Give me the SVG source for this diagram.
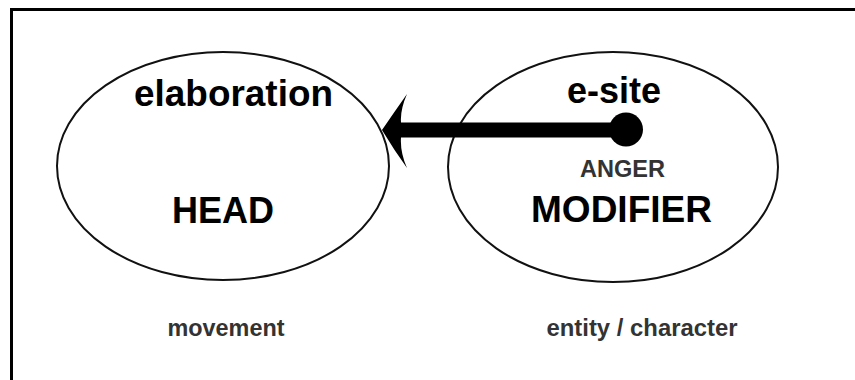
<svg xmlns="http://www.w3.org/2000/svg" width="855" height="380" viewBox="0 0 855 380">
  <style>
    .frame { stroke: #000; stroke-width: 3; fill: none; }
    .node { fill: none; stroke: #111; stroke-width: 2; }
    .title { font-family: "Liberation Sans", Arial, sans-serif; font-weight: bold; fill: #000; text-anchor: middle; }
    .sub { font-family: "Liberation Sans", Arial, sans-serif; font-weight: bold; fill: #333; text-anchor: middle; }
  </style>
  <rect width="855" height="380" fill="#fff"/>
  <!-- frame: top and left edges only -->
  <path class="frame" d="M10,9.5 H855 M11.5,8 V380"/>

  <g id="head">
    <ellipse class="node" cx="223" cy="166" rx="166" ry="114"/>
    <text class="title" x="233.5" y="106" font-size="36" textLength="199" lengthAdjust="spacingAndGlyphs">elaboration</text>
    <text class="title" x="223" y="223" font-size="36" textLength="102" lengthAdjust="spacingAndGlyphs">HEAD</text>
  </g>

  <g id="modifier">
    <ellipse class="node" cx="613" cy="167" rx="165" ry="115"/>
    <text class="title" x="614" y="103" font-size="36" textLength="94" lengthAdjust="spacingAndGlyphs">e-site</text>
    <text class="sub" x="622.5" y="177" font-size="23" textLength="85" lengthAdjust="spacingAndGlyphs">ANGER</text>
    <text class="title" x="621.5" y="222" font-size="36" textLength="181" lengthAdjust="spacingAndGlyphs">MODIFIER</text>
  </g>

  <g id="labels">
    <text class="sub" x="226" y="336" font-size="24" textLength="117" lengthAdjust="spacingAndGlyphs">movement</text>
    <text class="sub" x="642" y="336" font-size="24" textLength="191" lengthAdjust="spacingAndGlyphs">entity / character</text>
  </g>

  <g id="connectors">
    <!-- elaboration arrow from the e-site dot to HEAD -->
    <path fill="#000" d="M382,130 Q395,111 407,94 Q400,110 401,122.5 L626,122.5 L626,137.5 L401,137.5 Q400,152 407,168 Q394,150 382,130 Z"/>
    <circle cx="626" cy="129.5" r="17" fill="#000"/>
  </g>
</svg>
